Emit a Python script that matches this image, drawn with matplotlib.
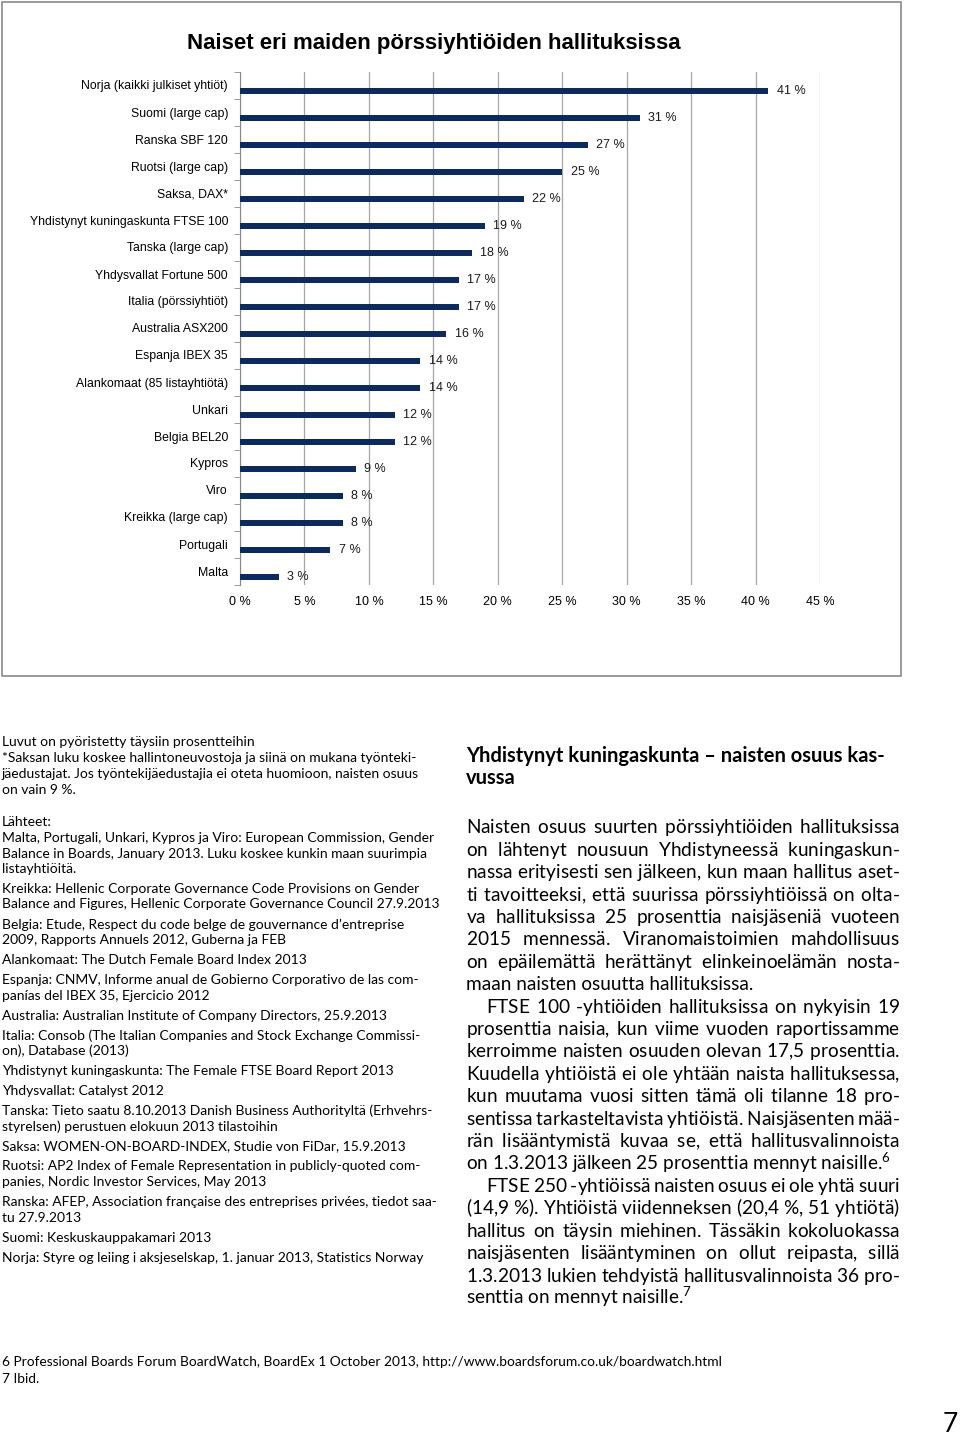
import numpy as np
import matplotlib
matplotlib.use('Agg')
import matplotlib.pyplot as plt
from matplotlib.patches import Rectangle

W, H = 960, 1436

countries = ['Norja (kaikki julkiset yhtiöt)', 'Suomi (large cap)', 'Ranska SBF 120',
             'Ruotsi (large cap)', 'Saksa, DAX*', 'Yhdistynyt kuningaskunta FTSE 100',
             'Tanska (large cap)', 'Yhdysvallat Fortune 500', 'Italia (pörssiyhtiöt)',
             'Australia ASX200', 'Espanja IBEX 35', 'Alankomaat (85 listayhtiötä)',
             'Unkari', 'Belgia BEL20', 'Kypros', 'Viro', 'Kreikka (large cap)',
             'Portugali', 'Malta']
shares = [41, 31, 27, 25, 22, 19, 18, 17, 17, 16, 14, 14, 12, 12, 9, 8, 8, 7, 3]
xticks = [0, 5, 10, 15, 20, 25, 30, 35, 40, 45]

notes = [
    'Luvut on pyöristetty täysiin prosentteihin',
    '*Saksan luku koskee hallintoneuvostoja ja siinä on mukana työnteki-',
    'jäedustajat. Jos työntekijäedustajia ei oteta huomioon, naisten osuus',
    'on vain 9 %.',
]
sources = [
    ['Malta, Portugali, Unkari, Kypros ja Viro: European Commission, Gender',
     'Balance in Boards, January 2013. Luku koskee kunkin maan suurimpia',
     'listayhtiöitä.'],
    ['Kreikka: Hellenic Corporate Governance Code Provisions on Gender',
     'Balance and Figures, Hellenic Corporate Governance Council 27.9.2013'],
    ['Belgia: Etude, Respect du code belge de gouvernance d’entreprise',
     '2009, Rapports Annuels 2012, Guberna ja FEB'],
    ['Alankomaat: The Dutch Female Board Index 2013'],
    ['Espanja: CNMV, Informe anual de Gobierno Corporativo de las com-',
     'panías del IBEX 35, Ejercicio 2012'],
    ['Australia: Australian Institute of Company Directors, 25.9.2013'],
    ['Italia: Consob (The Italian Companies and Stock Exchange Commissi-',
     'on), Database (2013)'],
    ['Yhdistynyt kuningaskunta: The Female FTSE Board Report 2013'],
    ['Yhdysvallat: Catalyst 2012'],
    ['Tanska: Tieto saatu 8.10.2013 Danish Business Authorityltä (Erhvehrs-',
     'styrelsen) perustuen elokuun 2013 tilastoihin'],
    ['Saksa: WOMEN-ON-BOARD-INDEX, Studie von FiDar, 15.9.2013'],
    ['Ruotsi: AP2 Index of Female Representation in publicly-quoted com-',
     'panies, Nordic Investor Services, May 2013'],
    ['Ranska: AFEP, Association française des entreprises privées, tiedot saa-',
     'tu 27.9.2013'],
    ['Suomi: Keskuskauppakamari 2013'],
    ['Norja: Styre og leiing i aksjeselskap, 1. januar 2013, Statistics Norway'],
]
heading = ['Yhdistynyt kuningaskunta – naisten osuus kas-', 'vussa']
paragraphs = [
    ['Naisten osuus suurten pörssiyhtiöiden hallituksissa',
     'on lähtenyt nousuun Yhdistyneessä kuningaskun-',
     'nassa erityisesti sen jälkeen, kun maan hallitus aset-',
     'ti tavoitteeksi, että suurissa pörssiyhtiöissä on olta-',
     'va hallituksissa 25 prosenttia naisjäseniä vuoteen',
     '2015 mennessä. Viranomaistoimien mahdollisuus',
     'on epäilemättä herättänyt elinkeinoelämän nosta-',
     'maan naisten osuutta hallituksissa.'],
    ['FTSE 100 -yhtiöiden hallituksissa on nykyisin 19',
     'prosenttia naisia, kun viime vuoden raportissamme',
     'kerroimme naisten osuuden olevan 17,5 prosenttia.',
     'Kuudella yhtiöistä ei ole yhtään naista hallituksessa,',
     'kun muutama vuosi sitten tämä oli tilanne 18 pro-',
     'sentissa tarkasteltavista yhtiöistä. Naisjäsenten mää-',
     'rän lisääntymistä kuvaa se, että hallitusvalinnoista',
     'on 1.3.2013 jälkeen 25 prosenttia mennyt naisille.$^{6}$'],
    ['FTSE 250 -yhtiöissä naisten osuus ei ole yhtä suuri',
     '(14,9 %). Yhtiöistä viidenneksen (20,4 %, 51 yhtiötä)',
     'hallitus on täysin miehinen. Tässäkin kokoluokassa',
     'naisjäsenten lisääntyminen on ollut reipasta, sillä',
     '1.3.2013 lukien tehdyistä hallitusvalinnoista 36 pro-',
     'senttia on mennyt naisille.$^{7}$'],
]
footnotes = ['6 Professional Boards Forum BoardWatch, BoardEx 1 October 2013, '
             'http://www.boardsforum.co.uk/boardwatch.html',
             '7 Ibid.']

plt.rcParams['font.family'] = ['Liberation Sans', 'DejaVu Sans']
plt.rcParams['mathtext.fontset'] = 'custom'
plt.rcParams['mathtext.rm'] = 'Lato'

fig = plt.figure(figsize=(W / 100, H / 100), dpi=100)


def fx(x):
    return x / W


def fy(y):
    return 1 - y / H


# chart frame
fig.patches.append(Rectangle((fx(2), fy(676)), fx(901) - fx(2), fy(2) - fy(676),
                             transform=fig.transFigure, fill=False,
                             edgecolor='#8a8a8a', linewidth=1.2))
fig.text(fx(434), fy(43), 'Naiset eri maiden pörssiyhtiöiden hallituksissa',
         ha='center', va='center', fontsize=16, fontweight='bold')

ax = fig.add_axes([fx(240), fy(584.5), fx(820) - fx(240), fy(71.5) - fy(584.5)])
pos = np.arange(len(countries))
ax.barh(pos + 0.22, shares, height=0.2, color='#0d2a5c', zorder=3)
for p, v in zip(pos, shares):
    ax.annotate(f'{v} %', (v, p + 0.22), xytext=(6, 0), textcoords='offset points',
                va='center', ha='left', fontsize=9, color='#1a1a1a')
ax.set_xlim(0, 45)
ax.set_ylim(len(countries) - 0.5, -0.5)
ax.set_xticks(xticks)
ax.set_xticklabels([f'{t} %' for t in xticks], fontsize=9)
ax.set_yticks(pos)
ax.set_yticklabels(countries, fontsize=8.8)
ax.set_yticks(np.arange(len(countries) + 1) - 0.5, minor=True)
ax.tick_params(axis='y', which='major', length=0, pad=8.6)
ax.tick_params(axis='y', which='minor', length=4, color='#8a8a8a', direction='out')
ax.tick_params(axis='x', length=0, pad=8)
ax.grid(axis='x', color='#a6a6a6', linewidth=0.9, zorder=0)
for s in ['top', 'right', 'bottom']:
    ax.spines[s].set_visible(False)
ax.spines['left'].set_color('#8a8a8a')

# left column notes
body = 'Lato'
for i, line in enumerate(notes):
    fig.text(fx(2), fy(742 + 16 * i), line, family=body, fontsize=10, va='center')
fig.text(fx(2), fy(822), 'Lähteet:', family=body, fontsize=10, va='center')
y = 838
for block in sources:
    for line in block:
        fig.text(fx(2), fy(y), line, family=body, fontsize=10, va='center')
        y += 15.5
    y += 4.5

# right column
for i, line in enumerate(heading):
    fig.text(fx(466), fy(756 + 22 * i), line, family=body, fontsize=14.5,
             fontweight='bold', va='center')

renderer = fig.canvas.get_renderer()
size = 13.7


def spaced(words, g):
    return words[0] + ''.join('$\\hspace{%.4f}$' % g + w for w in words[1:])


def justified(line, y, x0, x1, last):
    # one text per line; word gaps stretched with mathtext \hspace
    t = fig.text(fx(x0), fy(y), line, family=body, fontsize=size, va='baseline')
    words = line.split(' ')
    if last or len(words) == 1:
        return
    t.set_text(spaced(words, 0))
    w0 = t.get_window_extent(renderer).width
    t.set_text(spaced(words, 1))
    w1 = t.get_window_extent(renderer).width
    g = (x1 - x0 - w0) / (w1 - w0)
    t.set_text(spaced(words, g))


y = 828
for k, para in enumerate(paragraphs):
    for i, line in enumerate(para):
        x0 = 486 if (i == 0 and k > 0) else 466
        justified(line, y + 5.5, x0, 900, i == len(para) - 1)
        y += 22.4

fig.text(fx(2), fy(1362), footnotes[0], family=body, fontsize=9.9, va='center')
fig.text(fx(2), fy(1379), footnotes[1], family=body, fontsize=9.9, va='center')
fig.text(fx(958), fy(1424), '7', family=body, fontsize=19, va='center', ha='right')

fig.savefig('out.png', dpi=100)
